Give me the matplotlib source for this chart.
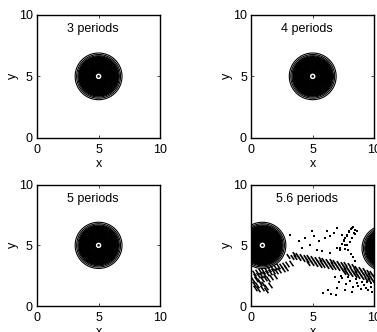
import numpy as np
import matplotlib
matplotlib.use("Agg")
import matplotlib.pyplot as plt
from matplotlib.path import Path

plt.rcParams['font.family'] = ['Liberation Sans', 'DejaVu Sans']

# ---- data ----
titles = ["3 periods", "4 periods", "5 periods", "5.6 periods"]
tick_vals = [0, 5, 10]
tick_labels = ["0", "5", "10"]
# vortex centres per panel (x, y)
centers = [[(5.0, 5.0)], [(5.0, 5.0)], [(5.0, 5.0)], [(0.92, 5.0), (10.9, 4.75)]]
# contour ring radii (distance from centre)
ring_radii = [0.06, 0.28, 0.34, 0.40, 0.46, 0.52, 0.58, 0.64, 0.70, 0.76, 0.82, 0.88, 0.94,
              1.00, 1.06, 1.12, 1.18, 1.24, 1.30, 1.36, 1.42, 1.48, 1.54, 1.60, 1.68, 1.78, 1.90]
ring_widths = [0.8] + [1.0] * 23 + [0.8, 0.8, 0.8]

# debris of the 5.6-period panel: hatch band (rows of short strokes)
band_x_mid = [3.0, 3.3, 3.6, 3.9, 4.2, 4.5, 4.8, 5.1, 5.4, 5.7, 6.0, 6.3, 6.6, 6.9, 7.2,
              7.5, 7.8, 8.1, 8.4, 8.7, 9.0, 9.3, 9.6, 9.9]
band_y_mid = [4.15, 4.08, 4.02, 3.95, 3.89, 3.83, 3.76, 3.70, 3.65, 3.60, 3.55, 3.50, 3.44,
              3.39, 3.32, 3.25, 3.17, 3.09, 2.99, 2.90, 2.80, 2.68, 2.57, 2.45]
band_x_up = [3.45, 3.75, 4.05, 4.35, 4.65, 4.95, 5.25, 5.55, 5.85, 6.15, 6.45, 6.75, 7.05,
             7.35, 7.65, 7.95, 8.25, 8.55, 8.85, 9.15, 9.45, 9.75]
band_y_up = [4.27, 4.21, 4.14, 4.08, 4.01, 3.95, 3.90, 3.84, 3.80, 3.74, 3.69, 3.64, 3.58,
             3.50, 3.43, 3.35, 3.26, 3.16, 3.07, 2.96, 2.84, 2.73]
band_x_lo = [4.65, 4.95, 5.25, 5.55, 5.85, 6.15, 6.45, 6.75, 7.05, 7.35, 7.65, 7.95, 8.25,
             8.55, 8.85, 9.15, 9.45, 9.75]
band_y_lo = [3.57, 3.51, 3.46, 3.40, 3.36, 3.30, 3.25, 3.20, 3.14, 3.06, 2.99, 2.91, 2.82,
             2.72, 2.63, 2.52, 2.40, 2.29]
band_x_lo2 = [7.5, 7.8, 8.1, 8.4, 8.7, 9.0, 9.3, 9.6, 9.9]
band_y_lo2 = [2.83, 2.75, 2.67, 2.57, 2.48, 2.38, 2.26, 2.15, 2.03]
# smudge under the left vortex
smudge_x = [0.2, 0.45, 0.7, 0.95, 1.2, 1.45, 1.7, 1.95, 2.2, 2.45, 2.7, 2.95, 3.2,
            0.3, 0.55, 0.8, 1.05, 1.3, 1.55, 1.8, 2.05, 2.3, 2.55, 2.8,
            0.15, 0.4, 0.65, 0.9, 1.15, 1.4, 1.65, 1.9,
            0.25, 0.5, 0.75, 1.0, 1.25, 1.5,
            0.3, 0.6, 0.9, 1.2]
smudge_y = [2.75, 2.8, 2.87, 2.93, 3.0, 3.07, 3.13, 3.2, 3.27, 3.33, 3.4, 3.47, 3.53,
            2.48, 2.55, 2.6, 2.67, 2.73, 2.8, 2.87, 2.93, 3.0, 3.07, 3.13,
            2.15, 2.2, 2.1, 2.25, 2.3, 2.2, 2.4, 2.5,
            1.8, 1.7, 1.9, 1.85, 1.6, 1.75,
            1.45, 1.4, 1.5, 1.35]
# scattered dots
dots_x = [3.17, 3.85, 4.12, 4.93, 5.07, 5.47, 6.15, 6.42, 6.69, 6.96, 7.37, 7.5, 7.78,
          7.91, 8.18, 8.32, 8.45, 7.64, 7.24, 6.96, 6.42, 5.74, 6.02, 4.39, 4.8, 5.34,
          7.2, 7.35, 7.5, 7.65, 7.8, 7.95, 8.1, 8.25,
          7.6, 7.8, 8.0, 8.2, 8.4, 8.6, 7.9, 8.1, 8.3, 8.45,
          6.8, 7.1, 7.4, 7.7, 8.0, 8.3, 8.6, 8.9, 9.2, 9.5, 9.7, 7.0, 7.6, 8.2, 6.2,
          6.5, 5.8, 6.9, 8.5, 9.0, 9.4, 9.7, 8.7, 9.3, 9.8, 7.3, 7.9]
dots_y = [5.87, 5.32, 4.77, 6.14, 5.73, 5.32, 6.14, 5.73, 6.0, 6.42, 5.87, 5.45, 5.73,
          6.14, 6.42, 6.0, 6.28, 5.04, 4.63, 4.77, 4.36, 4.5, 5.6, 5.6, 5.04, 4.63,
          4.8, 5.1, 5.35, 5.6, 5.85, 6.1, 6.35, 6.55,
          4.7, 5.0, 5.3, 5.6, 5.9, 6.2, 4.6, 4.3, 4.0, 3.75,
          2.4, 2.0, 2.3, 1.8, 2.1, 1.6, 1.9, 1.4, 1.7, 1.3, 1.6, 1.5, 1.3, 1.2, 1.3,
          1.0, 1.1, 0.9, 2.2, 1.95, 2.0, 1.9, 1.65, 1.5, 1.2, 2.5, 2.4]

# ---- figure ----
fig = plt.figure(figsize=(3.77, 3.32), dpi=100)
pos = [[0.098, 0.585, 0.327, 0.370],
       [0.666, 0.585, 0.327, 0.370],
       [0.098, 0.078, 0.327, 0.366],
       [0.666, 0.078, 0.327, 0.366]]

g = np.linspace(-1, 11, 900)
X, Y = np.meshgrid(g, g)
dash = Path([[-0.35, 0.5], [0.35, -0.5]], [Path.MOVETO, Path.LINETO])

for i in range(4):
    ax = fig.add_axes(pos[i])
    for (cx, cy) in centers[i]:
        R = np.hypot(X - cx, Y - cy)
        ax.contour(X, Y, R, levels=ring_radii, colors='k', linewidths=ring_widths)
    if i == 3:
        rows = [(band_x_mid, band_y_mid), (band_x_up, band_y_up),
                (band_x_lo, band_y_lo), (band_x_lo2, band_y_lo2)]
        for bx, by in rows:
            ax.plot(bx, by, ls='none', marker=dash, ms=3.4, mec='k', mew=1.2)
        ax.plot(smudge_x, smudge_y, ls='none', marker=dash, ms=4, mec='k', mew=1.1)
        ax.plot(dots_x, dots_y, ls='none', marker='s', ms=1.6, mfc='k', mec='k', mew=0)
    ax.set_xlim(0, 10)
    ax.set_ylim(0, 10)
    ax.set_xticks(tick_vals)
    ax.set_xticklabels(tick_labels)
    ax.set_yticks(tick_vals)
    ax.set_yticklabels(tick_labels)
    ax.tick_params(direction='in', length=2, width=0.5, labelsize=9, top=True, right=True)
    ax.tick_params(axis='x', pad=4.5)
    ax.tick_params(axis='y', pad=3)
    for s in ax.spines.values():
        s.set_linewidth(1.0)
    ax.set_xlabel("x", fontsize=9, labelpad=1.5)
    ax.set_ylabel("y", fontsize=9, labelpad=0)
    ax.text(4.5, 8.85, titles[i], ha='center', va='center', fontsize=9)

fig.savefig("out.png", dpi=100)
